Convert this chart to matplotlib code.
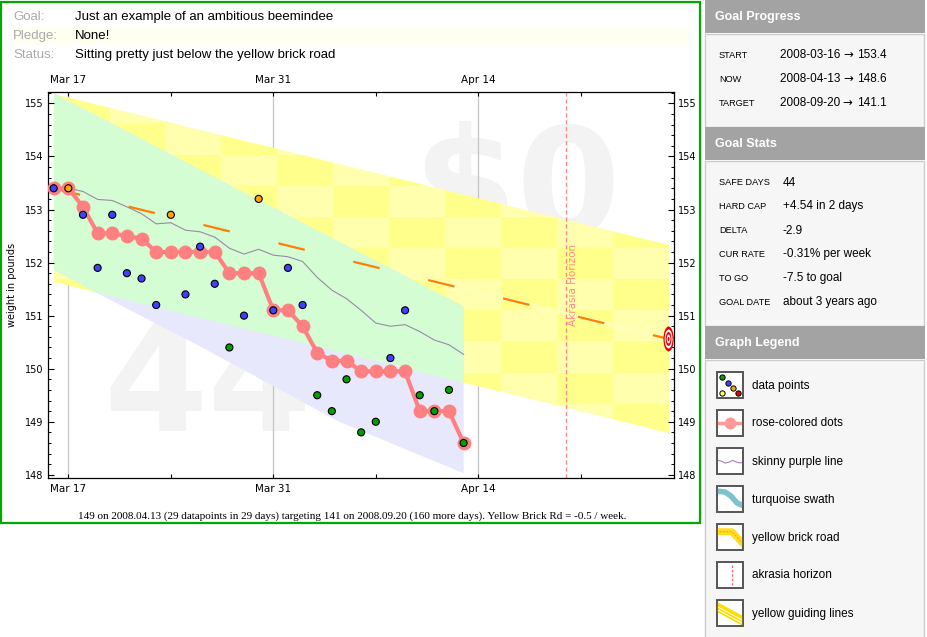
import numpy as np
import matplotlib
matplotlib.use("Agg")
import matplotlib.pyplot as plt
from matplotlib.patches import Polygon, Rectangle, Ellipse
from matplotlib.colors import ListedColormap
from matplotlib.ticker import MultipleLocator

# ---- data (x = days since 2008-03-16) ----
days = list(range(29))
weights = [153.4, 153.4, 152.9, 151.9, 152.9, 151.8, 151.7, 151.2, 152.9, 151.4,
           152.3, 151.6, 150.4, 151.0, 153.2, 151.1, 151.9, 151.2, 149.5, 149.2,
           149.8, 148.8, 149.0, 150.2, 151.1, 149.5, 149.2, 149.6, 148.6]
point_kind = ['b', 'o', 'b', 'b', 'b', 'b', 'b', 'b', 'o', 'b',
              'b', 'b', 'g', 'b', 'o', 'b', 'b', 'b', 'g', 'g',
              'g', 'g', 'g', 'b', 'b', 'g', 'g', 'g', 'g']
rose = [153.4, 153.4, 153.05, 152.55, 152.55, 152.5, 152.45, 152.2, 152.2, 152.2,
        152.2, 152.2, 151.8, 151.8, 151.8, 151.1, 151.1, 150.8, 150.3, 150.15,
        150.15, 149.95, 149.95, 149.95, 149.95, 149.2, 149.2, 149.2, 148.6]
purple = [153.4, 153.4, 153.34, 153.19, 153.17, 153.05, 152.92, 152.73, 152.75, 152.61,
          152.58, 152.48, 152.27, 152.16, 152.25, 152.14, 152.11, 152.02, 151.72, 151.48,
          151.32, 151.1, 150.86, 150.8, 150.83, 150.7, 150.54, 150.45, 150.27]

road_days = [0, 42]
road_vals = [153.4, 150.56]
road_halfwidth = 1.77

swath_days = [0, 3, 10, 19.5, 28]
swath_top = [155.19, 154.76, 153.75, 152.39, 151.17]
swath_bot = [151.87, 151.42, 150.42, 149.0, 148.03]

akrasia_day = 35
xtick_days = [1, 15, 29]
xtick_labels = ['Mar 17', 'Mar 31', 'Apr 14']
xminor_days = [8, 22, 36]

kind_colors = {'b': '#4040ff', 'o': '#ffa500', 'g': '#00a000'}

goal_rows = [('Goal:', 'Just an example of an ambitious beemindee'),
             ('Pledge:', 'None!'),
             ('Status:', 'Sitting pretty just below the yellow brick road')]
caption = ('149 on 2008.04.13 (29 datapoints in 29 days) targeting 141 on 2008.09.20 '
           '(160 more days). Yellow Brick Rd = -0.5 / week.')
progress_rows = [('START', '2008-03-16', '153.4'),
                 ('NOW', '2008-04-13', '148.6'),
                 ('TARGET', '2008-09-20', '141.1')]
stats_rows = [('SAFE DAYS', '44'), ('HARD CAP', '+4.54 in 2 days'), ('DELTA', '-2.9'),
              ('CUR RATE', '-0.31% per week'), ('TO GO', '-7.5 to goal'),
              ('GOAL DATE', 'about 3 years ago')]
legend_labels = ['data points', 'rose-colored dots', 'skinny purple line', 'turquoise swath',
                 'yellow brick road', 'akrasia horizon', 'yellow guiding lines']

SANS = ['Liberation Sans', 'DejaVu Sans']

fig = plt.figure(figsize=(9.27, 6.37), dpi=100)

# page background axes in pixel coordinates
bg = fig.add_axes([0, 0, 1, 1], zorder=-1)
bg.set_xlim(0, 927)
bg.set_ylim(637, 0)
bg.axis('off')

# ---- main chart ----
ax = fig.add_axes([47.7 / 927, 159 / 637, 626.3 / 927, 386.3 / 637])
ax.set_xlim(-0.41, 42.37)
ax.set_ylim(147.94, 155.22)

# watermarks
ax.text(31.65, 152.52, '$0', fontsize=108, fontweight='bold', color='#f3f3f3',
        ha='center', va='baseline', zorder=0.1, family='DejaVu Sans')
ax.text(10.5, 148.82, '44', fontsize=108, fontweight='bold', color='#f3f3f3',
        ha='center', va='baseline', zorder=0.1, family='DejaVu Sans')

for d in xtick_days:
    ax.axvline(d, color='#c4c4c4', lw=0.9, zorder=0.5)

# yellow brick road band (checkered)
rd = np.array(road_days, dtype=float)
rv = np.array(road_vals)
band_xy = np.column_stack([np.r_[rd, rd[::-1]],
                           np.r_[rv + road_halfwidth, (rv - road_halfwidth)[::-1]]])
band_poly = Polygon(band_xy, closed=True, facecolor='none', edgecolor='none')
ax.add_patch(band_poly)
xedges = np.linspace(0, 42, 12)
yedges = 148.17 + 0.5857 * np.arange(13)
checker = (np.add.outer(np.arange(12), np.arange(11)) % 2).astype(float)
mesh = ax.pcolormesh(xedges, yedges, checker, cmap=ListedColormap(['#ffffad', '#ffff8c']),
                     shading='flat', zorder=1, antialiased=False)
mesh.set_clip_path(band_poly)
ax.plot(road_days, road_vals, color='#ffffb8', lw=3, zorder=1.1, solid_capstyle='butt')

# swath: lavender outside the road, green inside it
sd = np.array(swath_days, dtype=float)
swath_xy = np.column_stack([np.r_[sd, sd[::-1]],
                            np.r_[swath_top, swath_bot[::-1]]])
ax.add_patch(Polygon(swath_xy, closed=True, facecolor='#e8e8fd', edgecolor='none', zorder=1.2))
green = Polygon(swath_xy, closed=True, facecolor='#d4fdd4', edgecolor='none', zorder=1.3)
ax.add_patch(green)
green.set_clip_path(band_poly)

# road centre dashes
ax.plot(road_days, road_vals, color='#ff8000', lw=1.6, dashes=(12.2, 22.5), zorder=1.5)

# akrasia horizon
ax.axvline(akrasia_day, color='#ff8a8a', lw=1, ls=(0, (3, 2)), zorder=1.6)
ax.text(akrasia_day + 0.44, 151.58, 'Akrasia Horizon', rotation=90, color='#ff8a8a',
        fontsize=7.5, ha='center', va='center', zorder=1.7)

# skinny purple line, rose dots, data points
ax.plot(days, purple, color='#9c88a8', lw=0.8, zorder=2)
ax.plot(days, rose, color='#ff8080', lw=3, marker='o', ms=9, zorder=3)
ax.scatter(days, weights, s=26, c=[kind_colors[k] for k in point_kind],
           edgecolors='black', linewidths=0.8, zorder=4)

# target bullseye
tx, ty = road_days[-1], road_vals[-1]
for scale, col in [(1.0, '#ee0000'), (0.76, 'white'), (0.56, '#ee0000'), (0.36, 'white'), (0.17, '#ee0000')]:
    ax.add_patch(Ellipse((tx, ty), 0.7 * scale, 0.47 * scale, facecolor=col, edgecolor='none', zorder=5))

# axes cosmetics
ax.set_xticks(xtick_days)
ax.set_xticklabels(xtick_labels)
ax.set_xticks(xminor_days, minor=True)
ax.tick_params(axis='x', which='both', direction='in', top=True, labeltop=True,
               length=3, width=0.8, labelsize=7.5, pad=4.5)
ax.set_yticks(range(148, 156))
ax.yaxis.set_minor_locator(MultipleLocator(0.2))
ax.tick_params(axis='y', which='major', direction='in', left=True, right=True,
               labelright=True, length=4.5, width=0.8, labelsize=7, pad=3)
ax.tick_params(axis='y', which='minor', direction='in', left=True, right=True,
               length=2.5, width=0.7)
ax.set_ylabel('weight in pounds', fontsize=7)
ax.yaxis.set_label_coords(-0.049, 0.5)
for sp in ax.spines.values():
    sp.set_linewidth(0.9)

# ---- page header and border ----
bg.add_patch(Rectangle((1.5, 1.5), 699, 521.5, fill=False, edgecolor='#00aa00', lw=1.6))
bg.add_patch(Rectangle((13, 27), 677, 18, facecolor='#fefff0', edgecolor='none'))
for i, (lab, val) in enumerate(goal_rows):
    y = 17 + 19 * i
    bg.text(13, y, lab, color='#aaaaaa', fontsize=9.5, va='center', family=SANS)
    bg.text(75, y, val, color='black', fontsize=9.5, va='center', family=SANS)
bg.text(352, 516, caption, ha='center', va='center', fontsize=8,
        family=['Liberation Serif', 'DejaVu Serif'])

# ---- sidebar ----
def section(y0, y1, title):
    bg.add_patch(Rectangle((705, y0), 220, 33, facecolor='#a3a3a3', edgecolor='none'))
    bg.text(715, y0 + 17, title, color='white', fontsize=9, fontweight='bold',
            va='center', family=SANS)
    bg.add_patch(Rectangle((705.5, y0 + 33.5), 219, y1 - y0 - 34, facecolor='#f6f6f6',
                           edgecolor='#cccccc', lw=1))

section(0, 127, 'Goal Progress')
section(127, 326, 'Goal Stats')
section(326, 660, 'Graph Legend')

for i, (lab, date, val) in enumerate(progress_rows):
    y = 55 + 24 * i
    bg.text(719, y, lab, fontsize=6.6, va='center', family=SANS)
    t = bg.text(780, y, date + ' ', fontsize=8.5, va='center', family=SANS)
    t = bg.annotate('\u2192 ', xycoords=t, xy=(1, 0.5), va='center', fontsize=8.5,
                    family='DejaVu Sans')
    bg.annotate(val, xycoords=t, xy=(1, 0.5), va='center', fontsize=8.5, family=SANS)
for i, (lab, val) in enumerate(stats_rows):
    y = 182.5 + 24 * i
    bg.text(719, y, lab, fontsize=6.6, va='center', family=SANS)
    bg.text(783, y, val, fontsize=8.5, va='center', family=SANS)

# legend icons
for i, lab in enumerate(legend_labels):
    x0, y0 = 717, 372 + 38 * i
    box = Rectangle((x0, y0), 26, 26, facecolor='white', edgecolor='#555555', lw=1.2, zorder=3)
    bg.add_patch(box)
    clip = Rectangle((x0, y0), 26, 26, transform=bg.transData)
    arts = []
    if i == 0:
        for dx, dy, c in [(5, 5, '#00a000'), (10.7, 10.7, '#4040ff'), (16, 16, '#ffa500'),
                          (5, 21, '#ffff66'), (21.5, 21, '#ee0000')]:
            arts += bg.plot(x0 + dx, y0 + dy, 'o', ms=3.8, mfc=c, mec='black', mew=0.7, zorder=4)
    elif i == 1:
        arts += bg.plot([x0, x0 + 26], [y0 + 13, y0 + 13], color='#ff9999', lw=2.5, zorder=4)
        arts += bg.plot(x0 + 13, y0 + 13, 'o', ms=7.5, color='#ff9999', zorder=4)
    elif i == 2:
        arts += bg.plot(x0 + np.array([0, 4, 8.3, 12.3, 15.7, 19.3, 23.3, 26.7]),
                        y0 + np.array([12.3, 13, 15, 14, 12.3, 14, 15, 14]),
                        color='#a582b4', lw=0.8, zorder=4)
    elif i == 3:
        arts += bg.plot(x0 + np.array([-1, 8, 14, 20, 27]),
                        y0 + np.array([5, 6, 10, 17, 20]),
                        color='#7cc3cb', lw=4, zorder=4, solid_capstyle='butt')
    elif i == 4:
        arts += bg.plot(x0 + np.array([-1, 15, 27]), y0 + np.array([7.7, 7.7, 21]),
                        color='#ffdd22', lw=5, zorder=4, solid_capstyle='butt')
        arts += bg.plot(x0 + np.array([-1, 15, 27]), y0 + np.array([7.7, 7.7, 21]),
                        color='#ff9900', lw=0.7, ls=(0, (2, 1.5)), zorder=5)
    elif i == 5:
        arts += bg.plot([x0 + 15.3, x0 + 15.3], [y0 + 3, y0 + 23], color='#ff6666',
                        lw=0.9, ls=(0, (2, 1.5)), zorder=4)
    else:
        p = Polygon([(x0, y0 + 2), (x0 + 26, y0 + 16), (x0 + 26, y0 + 26),
                     (x0, y0 + 12)], closed=True, facecolor='#ffdd00', edgecolor='none', zorder=4)
        bg.add_patch(p)
        arts.append(p)
        for off in (4.5, 7.5):
            arts += bg.plot([x0, x0 + 26], [y0 + 2 + off, y0 + 16 + off], color='white',
                            lw=0.7, zorder=5)
    for a in arts:
        a.set_clip_path(clip)
    bg.add_patch(Rectangle((x0, y0), 26, 26, fill=False, edgecolor='#555555', lw=1.2, zorder=6))
    bg.text(752, y0 + 13.5, lab, fontsize=8.5, va='center', family=SANS)

fig.savefig('out.png', dpi=100)
